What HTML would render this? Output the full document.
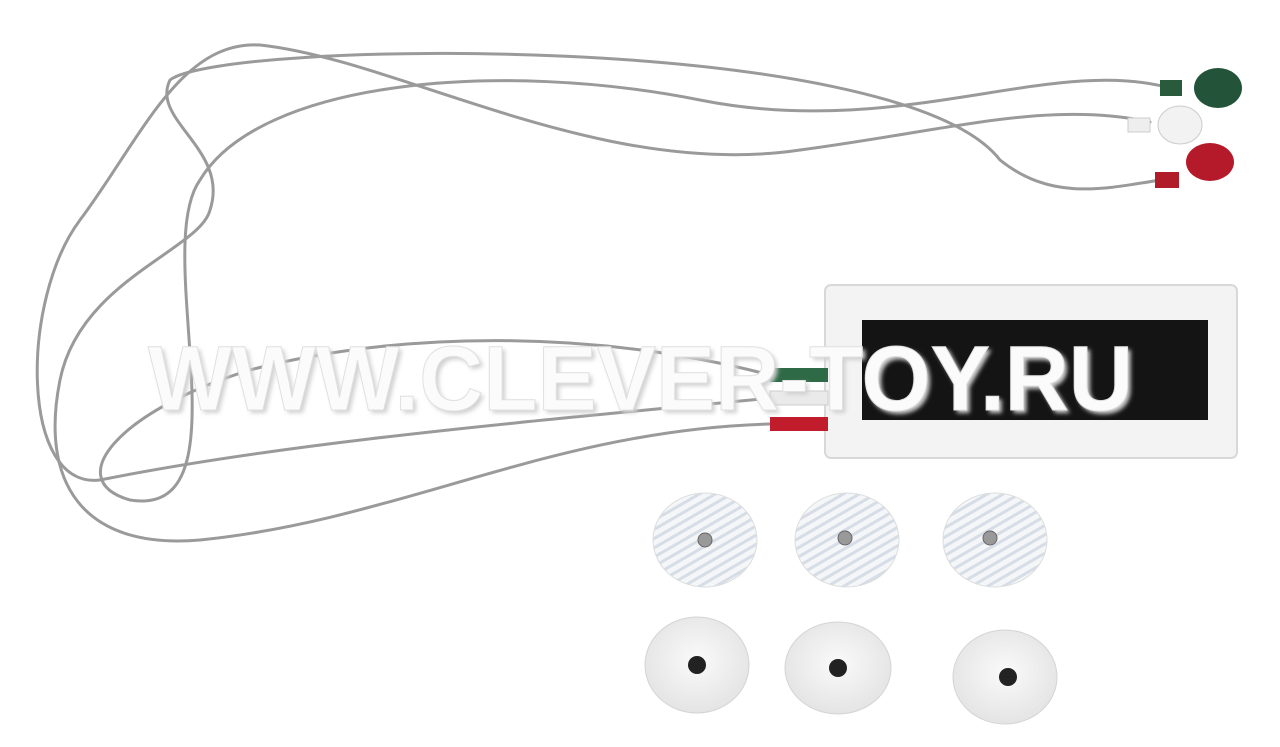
<!DOCTYPE html>
<html><head><meta charset="utf-8"><style>
html,body{margin:0;padding:0;background:#fff;width:1280px;height:747px;overflow:hidden}
</style></head><body>
<svg width="1280" height="747" viewBox="0 0 1280 747" xmlns="http://www.w3.org/2000/svg">
<defs>
<pattern id="st" width="8" height="8" patternUnits="userSpaceOnUse" patternTransform="rotate(60)">
<rect width="8" height="8" fill="#f4f6f8"/><rect width="3" height="8" fill="#d6dde6"/>
</pattern>
<radialGradient id="pad" cx="50%" cy="45%" r="60%"><stop offset="0" stop-color="#fafafa"/><stop offset="1" stop-color="#e2e2e2"/></radialGradient>
<filter id="sh"><feGaussianBlur stdDeviation="2"/></filter>
</defs>
<rect width="1280" height="747" fill="#fff"/>
<g fill="none" stroke="#9a9a9a" stroke-width="3" stroke-linecap="round">
<path d="M770,375 C600,330 400,330 250,370 C120,410 60,480 130,500 C250,520 150,250 200,180 C260,80 500,60 700,100 C900,140 1050,55 1170,88"/>
<path d="M770,398 C550,420 300,440 100,480 C20,490 20,300 80,220 C140,140 180,40 260,45 C400,60 600,180 800,150 C950,130 1050,100 1150,122"/>
<path d="M770,424 C550,430 400,520 200,540 C80,550 40,480 60,380 C80,280 200,250 210,210 C230,150 150,120 170,80 C220,40 900,30 1000,160 C1050,200 1100,190 1160,180"/>
</g>
<!-- snaps -->
<rect x="1160" y="80" width="22" height="16" fill="#2a5a3c"/><ellipse cx="1218" cy="88" rx="24" ry="20" fill="#23543a"/>
<rect x="1128" y="118" width="22" height="14" fill="#eee" stroke="#ccc"/><ellipse cx="1180" cy="125" rx="22" ry="19" fill="#f2f2f2" stroke="#ccc"/>
<rect x="1155" y="172" width="24" height="16" fill="#b01c2a"/><ellipse cx="1210" cy="162" rx="24" ry="19" fill="#b51a2a"/>
<!-- box -->
<rect x="825" y="285" width="412" height="173" rx="6" fill="#f3f3f3" stroke="#d8d8d8" stroke-width="2"/>
<rect x="862" y="320" width="346" height="100" fill="#141414"/>
<rect x="770" y="368" width="58" height="14" fill="#2f6a46"/>
<rect x="770" y="391" width="58" height="14" fill="#eaeaea" stroke="#ccc"/>
<rect x="770" y="417" width="58" height="14" fill="#c01c2c"/>
<!-- watermark -->
<text x="148" y="410" font-family="Liberation Sans, sans-serif" font-weight="bold" font-size="92" fill="#d0d0d0" textLength="985" lengthAdjust="spacingAndGlyphs" filter="url(#sh)" transform="translate(3,3)">WWW.CLEVER-TOY.RU</text>
<text x="148" y="410" font-family="Liberation Sans, sans-serif" font-weight="bold" font-size="92" fill="#fbfbfb" stroke="#e0e0e0" stroke-width="1" textLength="985" lengthAdjust="spacingAndGlyphs">WWW.CLEVER-TOY.RU</text>
<!-- top electrodes -->
<g stroke="#ddd">
<ellipse cx="705" cy="540" rx="52" ry="47" fill="url(#st)"/>
<ellipse cx="847" cy="540" rx="52" ry="47" fill="url(#st)"/>
<ellipse cx="995" cy="540" rx="52" ry="47" fill="url(#st)"/>
</g>
<g fill="#999" stroke="#666"><circle cx="705" cy="540" r="7"/><circle cx="845" cy="538" r="7"/><circle cx="990" cy="538" r="7"/></g>
<!-- bottom electrodes -->
<g fill="url(#pad)" stroke="#d4d4d4">
<ellipse cx="697" cy="665" rx="52" ry="48"/>
<ellipse cx="838" cy="668" rx="53" ry="46"/>
<ellipse cx="1005" cy="677" rx="52" ry="47"/>
</g>
<g fill="#222"><circle cx="697" cy="665" r="9"/><circle cx="838" cy="668" r="9"/><circle cx="1008" cy="677" r="9"/></g>
</svg>
</body></html>
